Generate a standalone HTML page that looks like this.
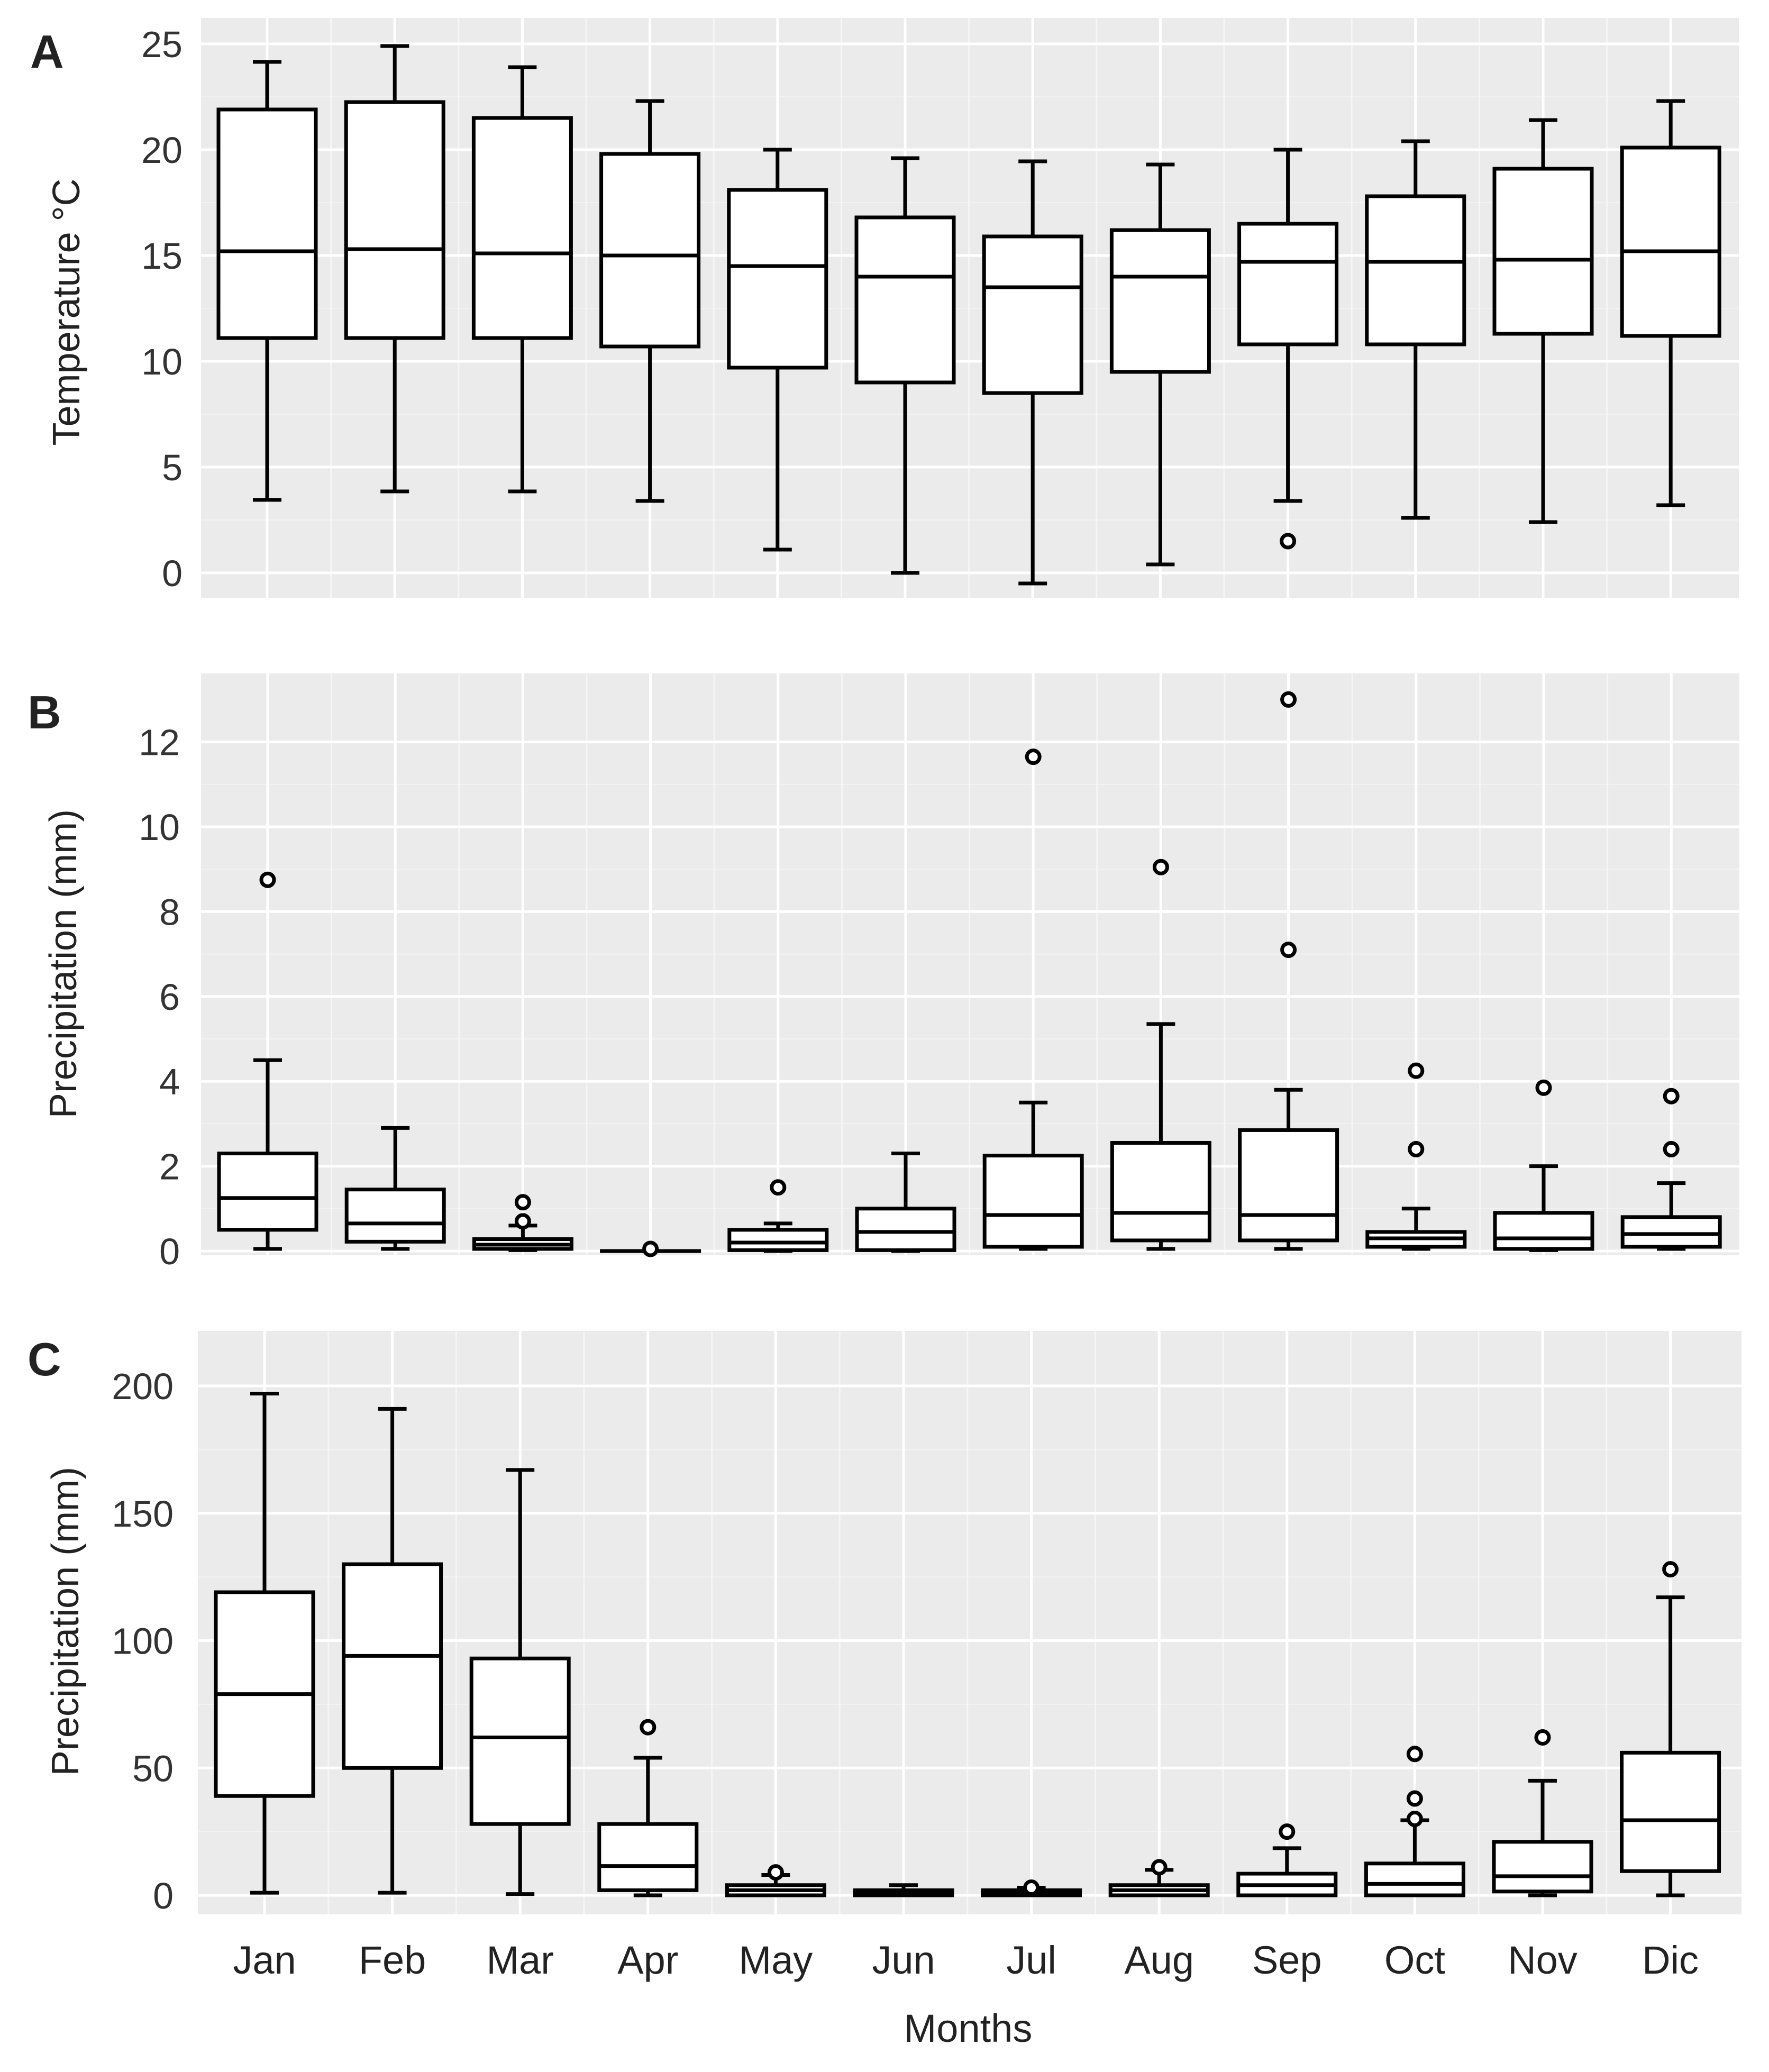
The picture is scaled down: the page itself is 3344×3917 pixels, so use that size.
<!DOCTYPE html>
<html><head><meta charset="utf-8"><style>
html,body{margin:0;padding:0;background:#fff;}
svg{display:block;font-family:"Liberation Sans",Arial,sans-serif;}
</style></head><body>
<svg id="chart" width="3344" height="3917" viewBox="0 0 3344 3917" xmlns="http://www.w3.org/2000/svg">
<rect x="0" y="0" width="3344" height="3917" fill="#fff"/>
</svg>
<script>
const months = ["Jan","Feb","Mar","Apr","May","Jun","Jul","Aug","Sep","Oct","Nov","Dic"];
// Panel A: temperature
const tempLow = [3.45,3.85,3.85,3.4,1.1,0.0,-0.5,0.4,3.4,2.6,2.4,3.2];
const tempQ1 = [11.1,11.1,11.1,10.7,9.7,9.0,8.5,9.5,10.8,10.8,11.3,11.2];
const tempMed = [15.2,15.3,15.1,15.0,14.5,14.0,13.5,14.0,14.7,14.7,14.8,15.2];
const tempQ3 = [21.9,22.25,21.5,19.8,18.1,16.8,15.9,16.2,16.5,17.8,19.1,20.1];
const tempHigh = [24.15,24.9,23.9,22.3,20.0,19.6,19.45,19.3,20.0,20.4,21.4,22.3];
const tempOut = [[],[],[],[],[],[],[],[],[1.5],[],[],[]];
const tempTicks = [0,5,10,15,20,25];
// Panel B: daily precipitation
const dayLow = [0.05,0.05,0.02,0,0,0,0.05,0.05,0.05,0.05,0.02,0.05];
const dayQ1 = [0.5,0.22,0.05,0,0.02,0.02,0.1,0.25,0.25,0.1,0.05,0.1];
const dayMed = [1.25,0.65,0.15,0,0.2,0.45,0.85,0.9,0.85,0.3,0.3,0.4];
const dayQ3 = [2.3,1.45,0.28,0,0.5,1.0,2.25,2.55,2.85,0.45,0.9,0.8];
const dayHigh = [4.5,2.9,0.6,0,0.65,2.3,3.5,5.35,3.8,1.0,2.0,1.6];
const dayOut = [[8.75],[],[1.15,0.7],[0.05],[1.5],[],[11.65],[9.05],[13.0,7.1],[4.25,2.4],[3.85],[3.65,2.4]];
const dayTicks = [0,2,4,6,8,10,12];
// Panel C: monthly precipitation
const monLow = [1,1,0.5,0,0,0,0,0,0,0,0,0];
const monQ1 = [39,50,28,2,0,0,0,0,0,0,1.5,9.5];
const monMed = [79,94,62,11.5,2,1,1,2,4,4.5,7.5,29.5];
const monQ3 = [119,130,93,28,4,2,2,4,8.5,12.5,21,56];
const monHigh = [197,191,167,54,8,4,3,10,18.5,29.5,45,117];
const monOut = [[],[],[],[66],[9],[],[3],[11],[25],[55.5,38,30],[62],[128]];
const monTicks = [0,50,100,150,200];

const NS="http://www.w3.org/2000/svg";
const svg=document.getElementById('chart');
function mk(tag,attrs,parent){const e=document.createElementNS(NS,tag);for(const k in attrs)e.setAttribute(k,attrs[k]);(parent||svg).appendChild(e);return e;}

function panel(cfg){
  const g=mk('g',{});
  
  
  const {left,right,top,bottom,y0,vMin,vMax,x0,step}=cfg;
  const yS=v=>y0-(v-vMin)*(y0-cfg.yTop)/(vMax-vMin);
  const xS=i=>x0+i*step;
  const bg=mk('rect',{x:left,y:top,width:right-left,height:bottom-top,fill:'#ebebeb'},g);
  
  
  for(let k=0;k<cfg.ticks.length-1;k++){
    const m=(cfg.ticks[k]+cfg.ticks[k+1])/2;
    mk('line',{x1:left,x2:right,y1:yS(m),y2:yS(m),stroke:'#f2f2f2','stroke-width':2},g);
  }
  for(let i=0;i<months.length-1;i++){
    const xm=(xS(i)+xS(i+1))/2;
    mk('line',{x1:xm,x2:xm,y1:top,y2:bottom,stroke:'#f5f5f5','stroke-width':3},g);
  }
  cfg.ticks.forEach(t=>{
    const l=mk('line',{x1:left,x2:right,y1:yS(t),y2:yS(t),stroke:'#fff','stroke-width':5},g);
    
    
    const tx=mk('text',{x:cfg.tickX,y:yS(t)+25,'text-anchor':'end','font-size':70,fill:'#333'},g);
    tx.textContent=t;
    
    
  });
  months.forEach((m,i)=>{
    mk('line',{x1:xS(i),x2:xS(i),y1:top,y2:bottom,stroke:'#fff','stroke-width':5},g);
  });
  const hw=92, cw=27, sw=7;
  months.forEach((m,i)=>{
    const x=xS(i);
    const bx=mk('g',{},g);
    
    
    const lo=yS(cfg.low[i]),q1=yS(cfg.q1[i]),md=yS(cfg.med[i]),q3=yS(cfg.q3[i]),hi=yS(cfg.high[i]);
    mk('line',{x1:x,x2:x,y1:hi,y2:q3,stroke:'#000','stroke-width':sw},bx);
    mk('line',{x1:x,x2:x,y1:q1,y2:lo,stroke:'#000','stroke-width':sw},bx);
    mk('line',{x1:x-cw,x2:x+cw,y1:hi,y2:hi,stroke:'#000','stroke-width':sw},bx);
    mk('line',{x1:x-cw,x2:x+cw,y1:lo,y2:lo,stroke:'#000','stroke-width':sw},bx);
    mk('rect',{x:x-hw,y:q3,width:2*hw,height:Math.max(q1-q3,0.1),fill:'#fff',stroke:'#000','stroke-width':sw},bx);
    mk('line',{x1:x-hw,x2:x+hw,y1:md,y2:md,stroke:'#000','stroke-width':sw},bx);
    cfg.out[i].forEach(o=>{
      const c=mk('circle',{cx:x,cy:yS(o),r:12,fill:'#fff',stroke:'#000','stroke-width':7},bx);
      
      
    });
  });
  const lab=mk('text',{x:cfg.labX,y:cfg.labY,'font-size':88,'font-weight':'bold',fill:'#222'},g);
  lab.textContent=cfg.letter;
  
  
  const yt=mk('text',{x:0,y:0,'font-size':72,fill:'#222','text-anchor':'middle',transform:`translate(${cfg.titleX},${cfg.titleY}) rotate(-90)`},g);
  yt.textContent=cfg.title;
  
  
  return xS;
}

panel({name:'panel-a',letter:'A',title:'Temperature °C',left:380,right:3287,top:34,bottom:1131,
  y0:1083,yTop:1083-25*40,vMin:0,vMax:25,x0:505,step:241.2,ticks:tempTicks,tickX:345,
  low:tempLow,q1:tempQ1,med:tempMed,q3:tempQ3,high:tempHigh,out:tempOut,
  labX:57,labY:128,titleX:150,titleY:590});
panel({name:'panel-b',letter:'B',title:'Precipitation (mm)',left:380,right:3288,top:1273,bottom:2373,
  y0:2365,yTop:2365-12*80.2,vMin:0,vMax:12,x0:506,step:241.2,ticks:dayTicks,tickX:340,
  low:dayLow,q1:dayQ1,med:dayMed,q3:dayQ3,high:dayHigh,out:dayOut,
  labX:52,labY:1377,titleX:144,titleY:1822});
const xC=panel({name:'panel-c',letter:'C',title:'Precipitation (mm)',left:374,right:3292,top:2516,bottom:3619,
  y0:3583,yTop:2620,vMin:0,vMax:200,x0:500,step:241.6,ticks:monTicks,tickX:328,
  low:monLow,q1:monQ1,med:monMed,q3:monQ3,high:monHigh,out:monOut,
  labX:52,labY:2600,titleX:148,titleY:3065});
months.forEach((m,i)=>{
  const t=mk('text',{x:xC(i),y:3731,'text-anchor':'middle','font-size':74,fill:'#222'});
  t.textContent=m;
  
  
});
const xt=mk('text',{x:1830,y:3860,'text-anchor':'middle','font-size':74,fill:'#222'});
xt.textContent='Months';


</script>
</body></html>
